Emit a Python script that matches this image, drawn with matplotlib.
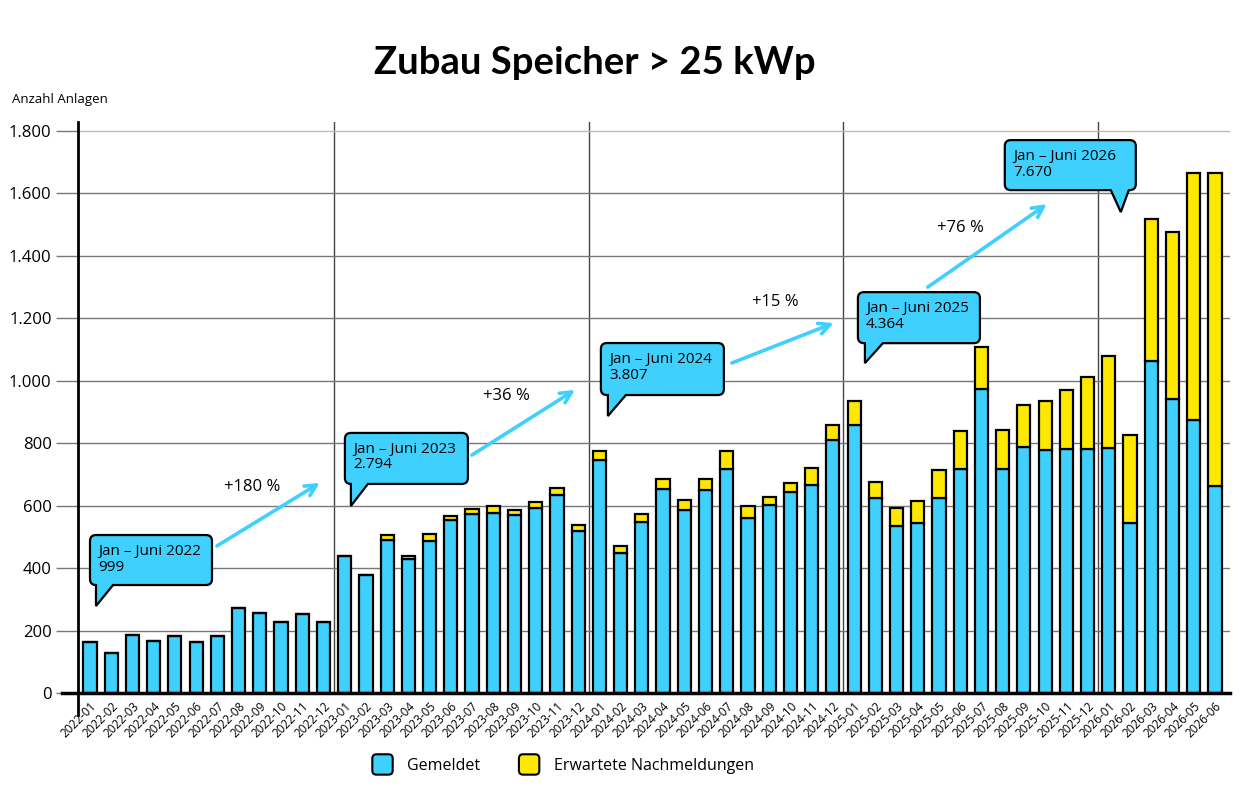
import matplotlib
matplotlib.use("Agg")
import matplotlib.pyplot as plt
import numpy as np
from matplotlib.path import Path
from matplotlib.patches import PathPatch, FancyBboxPatch
from matplotlib.transforms import IdentityTransform
from matplotlib.legend_handler import HandlerPatch
from matplotlib.ticker import FuncFormatter, MultipleLocator
from matplotlib.lines import Line2D

# ---------------- data ----------------
years = [2022, 2023, 2024, 2025, 2026]
months = [f"{y}-{m:02d}" for y in years for m in range(1, 13)][:54]

gemeldet = [162, 129, 187, 165, 184, 164, 184, 273, 257, 227, 254, 227,
            438, 379, 490, 428, 488, 553, 573, 578, 569, 591, 635, 518,
            746, 450, 548, 652, 586, 650, 718, 560, 601, 644, 667, 811,
            858, 625, 534, 544, 625, 719, 975, 719, 788, 777, 783, 780,
            784, 546, 1065, 941, 876, 664]
nachmeldungen = [0, 0, 0, 0, 0, 0, 0, 0, 0, 0, 0, 0,
                 0, 0, 15, 12, 21, 15, 15, 20, 17, 20, 22, 19,
                 29, 20, 25, 32, 31, 35, 58, 38, 27, 30, 54, 47,
                 78, 50, 58, 71, 90, 121, 134, 125, 134, 158, 187, 231,
                 296, 282, 452, 536, 791, 1003]

callout_titles = ["Jan – Juni 2022", "Jan – Juni 2023", "Jan – Juni 2024",
                  "Jan – Juni 2025", "Jan – Juni 2026"]
callout_values = ["999", "2.794", "3.807", "4.364", "7.670"]
growth_labels = ["+180 %", "+36 %", "+15 %", "+76 %"]

BLUE = "#40D0FE"
YELLOW = "#FFE800"
FONT = ["Open Sans", "DejaVu Sans"]

plt.rcParams["font.family"] = FONT

W, H = 1260, 800
fig = plt.figure(figsize=(W / 100, H / 100), dpi=100)
ax = fig.add_axes([78 / W, 1 - 693 / H, (1230 - 78) / W, (693 - 122) / H])

x = np.arange(len(months))
ax.bar(x, gemeldet, width=0.62, color=BLUE, edgecolor="black", linewidth=1.6,
       zorder=3, label="Gemeldet")
ax.bar(x, nachmeldungen, width=0.62, bottom=gemeldet, color=YELLOW,
       edgecolor="black", linewidth=1.6, zorder=3, label="Erwartete Nachmeldungen")

ax.set_xlim(-0.565, 53.71)
ax.set_ylim(0, 1829)
ax.yaxis.set_major_locator(MultipleLocator(200))
ax.yaxis.set_major_formatter(FuncFormatter(lambda v, p: f"{int(v):,}".replace(",", ".")))
ax.set_yticks(np.arange(0, 1801, 200))

ax.grid(axis="y", color="#777777", linewidth=1, zorder=0)
gl = ax.get_ygridlines()
gl[-1].set_color("#bbbbbb")
for s in ["top", "right", "left", "bottom"]:
    ax.spines[s].set_visible(False)

ax.tick_params(axis="y", length=16, width=1, color="#777777", labelsize=12, pad=3)
ax.set_xticks(x)
ax.set_xticklabels(months, rotation=45, ha="right", rotation_mode="anchor", fontsize=8.5)
ax.tick_params(axis="x", length=0, pad=5)

# year separators
for sep in [11.5, 23.5, 35.5, 47.5]:
    ax.axvline(sep, color="#444444", linewidth=1, zorder=1)

# axis lines (extending beyond the axes like the reference)
ax.add_line(Line2D([-16 / 1152, 1], [0, 0], transform=ax.transAxes, color="black",
                   linewidth=2.5, clip_on=False, zorder=5))
ax.add_line(Line2D([0, 0], [-22 / 571, 1], transform=ax.transAxes, color="black",
                   linewidth=2, clip_on=False, zorder=5))

# title and axis label
fig.text(595 / W, 1 - 63 / H, "Zubau Speicher > 25 kWp", ha="center", va="center",
         fontsize=27.5, fontweight="bold", family=["Lato", "DejaVu Sans"])
fig.text(12 / W, 1 - 99 / H, "Anzahl Anlagen", ha="left", va="center", fontsize=9.5)

# growth arrows
arrows = [((5.98, 471), (10.83, 673)), ((17.99, 762), (22.85, 971)),
          ((30.24, 1057), (35.04, 1185)), ((39.47, 1300), (45.08, 1566))]
label_pos = [(7.63, 660), (19.6, 951), (32.27, 1252), (41.03, 1489)]
for (s, e), lab, lp in zip(arrows, growth_labels, label_pos):
    ax.annotate("", xy=e, xytext=s,
                arrowprops=dict(arrowstyle="->,head_length=0.8,head_width=0.4",
                                color=BLUE, lw=2.6, shrinkA=0, shrinkB=0), zorder=6)
    ax.text(lp[0], lp[1], lab, ha="center", va="center", fontsize=12, zorder=6)

# callouts
fig.canvas.draw()


def callout(xd, yd, w, h, t0, tip, t1, depth, title, value):
    px, py = ax.transData.transform((xd, yd))
    r = 6
    b = py - h
    verts = [(px + r, py), (px + w - r, py), (px + w, py), (px + w, py - r),
             (px + w, b + r), (px + w, b), (px + w - r, b),
             (px + t1, b), (px + tip, b - depth), (px + t0, b),
             (px + r, b), (px, b), (px, b + r), (px, py - r), (px, py), (px + r, py),
             (px + r, py)]
    codes = [Path.MOVETO, Path.LINETO, Path.CURVE3, Path.CURVE3,
             Path.LINETO, Path.CURVE3, Path.CURVE3,
             Path.LINETO, Path.LINETO, Path.LINETO,
             Path.LINETO, Path.CURVE3, Path.CURVE3, Path.LINETO, Path.CURVE3, Path.CURVE3,
             Path.CLOSEPOLY]
    patch = PathPatch(Path(verts, codes), facecolor=BLUE, edgecolor="black",
                      linewidth=1.6, transform=IdentityTransform(), zorder=7)
    fig.add_artist(patch)
    fig.text(px + 8, py - 9, title + "\n" + value, transform=IdentityTransform(),
             ha="left", va="top", fontsize=11, linespacing=1.05, zorder=8)


callout(0.0, 506, 122, 50, 6, 6, 23, 21, callout_titles[0], callout_values[0])
callout(12.01, 833, 123, 51, 6, 6, 23, 22, callout_titles[1], callout_values[1])
callout(24.07, 1121, 123, 52, 7, 7, 25, 21, callout_titles[2], callout_values[2])
callout(36.18, 1284, 122, 51, 7, 7, 25, 20, callout_titles[3], callout_values[3])
callout(43.10, 1771, 131, 50, 106, 116, 124, 22, callout_titles[4], callout_values[4])


# legend with rounded square handles
class RoundHandler(HandlerPatch):
    def create_artists(self, legend, orig_handle, xdescent, ydescent, width, height,
                       fontsize, trans):
        size = height * 1.6
        p = FancyBboxPatch((-xdescent + (width - size) / 2, -ydescent + (height - size) / 2),
                           size, size, boxstyle="round,pad=0,rounding_size=3",
                           facecolor=orig_handle.get_facecolor(), edgecolor="black",
                           linewidth=1.5, transform=trans)
        return [p]


h1 = FancyBboxPatch((0, 0), 1, 1, facecolor=BLUE)
h2 = FancyBboxPatch((0, 0), 1, 1, facecolor=YELLOW)
fig.legend([h1, h2], ["Gemeldet", "Erwartete Nachmeldungen"], loc="center",
           bbox_to_anchor=(563 / W, 1 - 766 / H), ncol=2, frameon=False, fontsize=11.5,
           handler_map={FancyBboxPatch: RoundHandler()}, handlelength=1.3,
           handleheight=0.85, columnspacing=2.4, handletextpad=0.9)

fig.savefig("out.png", dpi=100)
